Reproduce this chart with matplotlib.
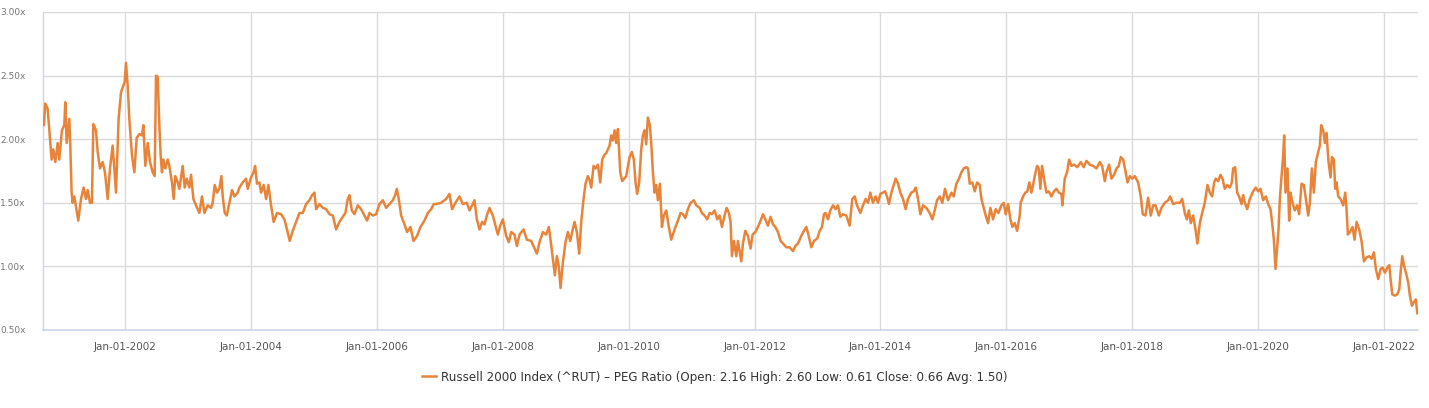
import matplotlib
matplotlib.use("Agg")
import matplotlib.pyplot as plt
import numpy as np

# PEG ratio readings (decimal year, value)
years = [
    2000.697, 2000.707, 2000.728, 2000.766, 2000.803, 2000.829, 2000.856, 2000.887, 2000.925, 2000.951,
    2000.993, 2001.031, 2001.046, 2001.068, 2001.110, 2001.126, 2001.147, 2001.163, 2001.190, 2001.227,
    2001.253, 2001.296, 2001.338, 2001.375, 2001.402, 2001.439, 2001.470, 2001.492, 2001.534, 2001.561,
    2001.598, 2001.640, 2001.677, 2001.720, 2001.757, 2001.799, 2001.826, 2001.852, 2001.894, 2001.932,
    2001.969, 2001.990, 2002.011, 2002.038, 2002.064, 2002.106, 2002.144, 2002.181, 2002.223, 2002.265,
    2002.287, 2002.318, 2002.356, 2002.393, 2002.435, 2002.467, 2002.488, 2002.515, 2002.541, 2002.562,
    2002.583, 2002.605, 2002.636, 2002.674, 2002.700, 2002.742, 2002.769, 2002.795, 2002.833, 2002.859,
    2002.886, 2002.912, 2002.944, 2002.976, 2003.018, 2003.045, 2003.082, 2003.124, 2003.177, 2003.219,
    2003.257, 2003.310, 2003.363, 2003.389, 2003.421, 2003.458, 2003.495, 2003.527, 2003.548, 2003.580,
    2003.612, 2003.654, 2003.696, 2003.734, 2003.787, 2003.813,
    2003.866, 2003.919, 2003.945, 2003.998, 2004.040, 2004.062, 2004.093, 2004.131, 2004.157, 2004.199,
    2004.237, 2004.274, 2004.316, 2004.358, 2004.411, 2004.475, 2004.528, 2004.570, 2004.613, 2004.661,
    2004.714, 2004.767, 2004.820, 2004.873, 2004.926, 2004.968, 2005.005, 2005.032, 2005.085, 2005.138,
    2005.191, 2005.244, 2005.297, 2005.350, 2005.403, 2005.456, 2005.498, 2005.535, 2005.562, 2005.599,
    2005.641, 2005.694, 2005.747, 2005.800, 2005.842, 2005.880, 2005.933, 2005.986, 2006.039, 2006.092,
    2006.145, 2006.198, 2006.251, 2006.288, 2006.314, 2006.346, 2006.383, 2006.436, 2006.478, 2006.531,
    2006.579, 2006.637, 2006.690, 2006.754, 2006.807, 2006.860, 2006.902,
    2006.939, 2007.019, 2007.098, 2007.151, 2007.193, 2007.246, 2007.310, 2007.363, 2007.427, 2007.469,
    2007.511, 2007.549, 2007.586, 2007.628, 2007.670, 2007.708, 2007.745, 2007.787, 2007.840, 2007.882,
    2007.920, 2007.957, 2007.999, 2008.052, 2008.094, 2008.132, 2008.185, 2008.222, 2008.264, 2008.328,
    2008.381, 2008.450, 2008.503, 2008.540, 2008.582, 2008.635, 2008.688, 2008.730, 2008.757, 2008.794,
    2008.826, 2008.858, 2008.889, 2008.916, 2008.953, 2008.995, 2009.033, 2009.070, 2009.101, 2009.139,
    2009.176, 2009.213, 2009.245, 2009.282, 2009.313, 2009.351, 2009.377, 2009.404, 2009.441, 2009.472,
    2009.510, 2009.547, 2009.578, 2009.616, 2009.642, 2009.695, 2009.722, 2009.748, 2009.775, 2009.801,
    2009.828, 2009.865, 2009.896, 2009.960, 2010.013,
    2010.050, 2010.081, 2010.108, 2010.134, 2010.166, 2010.198, 2010.225, 2010.251, 2010.278, 2010.304,
    2010.336, 2010.357, 2010.384, 2010.410, 2010.437, 2010.463, 2010.495, 2010.527, 2010.558, 2010.596,
    2010.633, 2010.675, 2010.728, 2010.781, 2010.823, 2010.861, 2010.898, 2010.940, 2010.982, 2011.035,
    2011.073, 2011.126, 2011.163, 2011.205, 2011.247, 2011.285, 2011.322, 2011.364, 2011.406, 2011.444,
    2011.481, 2011.523, 2011.555, 2011.592, 2011.618, 2011.640, 2011.671, 2011.709, 2011.735, 2011.762,
    2011.788, 2011.815, 2011.852, 2011.894, 2011.936, 2011.968, 2012.011, 2012.053, 2012.095, 2012.133,
    2012.170, 2012.212, 2012.254, 2012.292, 2012.329, 2012.371, 2012.413, 2012.451, 2012.504, 2012.557,
    2012.610, 2012.647, 2012.689, 2012.742, 2012.784, 2012.822, 2012.859, 2012.901, 2012.943, 2012.996,
    2013.034, 2013.071, 2013.102,
    2013.128, 2013.166, 2013.203, 2013.245, 2013.287, 2013.325, 2013.362, 2013.404, 2013.457, 2013.510,
    2013.552, 2013.590, 2013.627, 2013.680, 2013.722, 2013.764, 2013.802, 2013.839, 2013.881, 2013.923,
    2013.961, 2013.998, 2014.040, 2014.072, 2014.104, 2014.135, 2014.173, 2014.210, 2014.241, 2014.279,
    2014.316, 2014.358, 2014.400, 2014.438, 2014.491, 2014.528, 2014.560, 2014.597, 2014.634, 2014.676,
    2014.729, 2014.782, 2014.824, 2014.862, 2014.899, 2014.941, 2014.983, 2015.026, 2015.074, 2015.127,
    2015.164, 2015.206, 2015.248, 2015.286, 2015.323, 2015.365, 2015.392, 2015.418, 2015.460, 2015.498,
    2015.535, 2015.577, 2015.604, 2015.630, 2015.672, 2015.710, 2015.747, 2015.789, 2015.831, 2015.874,
    2015.922, 2015.959, 2015.990, 2016.028, 2016.065, 2016.097, 2016.134, 2016.171, 2016.213,
    2016.228, 2016.266, 2016.303, 2016.334, 2016.366, 2016.398, 2016.425, 2016.451, 2016.488, 2016.515,
    2016.541, 2016.568, 2016.599, 2016.637, 2016.674, 2016.716, 2016.758, 2016.796, 2016.833, 2016.875,
    2016.891, 2016.928, 2016.965, 2016.997, 2017.034, 2017.076, 2017.129, 2017.182, 2017.230, 2017.273,
    2017.326, 2017.379, 2017.432, 2017.485, 2017.522, 2017.564, 2017.591, 2017.633, 2017.670, 2017.712,
    2017.750, 2017.787, 2017.818, 2017.856, 2017.893, 2017.925, 2017.962, 2017.999, 2018.041, 2018.094,
    2018.136, 2018.168, 2018.211, 2018.253, 2018.295, 2018.333, 2018.370, 2018.423, 2018.465, 2018.518,
    2018.571, 2018.603, 2018.651, 2018.704, 2018.757, 2018.794, 2018.836, 2018.868, 2018.900, 2018.931,
    2018.969, 2019.006, 2019.037, 2019.075, 2019.112, 2019.154, 2019.196, 2019.234, 2019.271, 2019.302,
    2019.328, 2019.366, 2019.403, 2019.434, 2019.472, 2019.509, 2019.551, 2019.583, 2019.604, 2019.636,
    2019.668, 2019.699, 2019.737, 2019.763, 2019.790, 2019.827, 2019.869, 2019.922, 2019.964, 2020.002,
    2020.039, 2020.081, 2020.123, 2020.161, 2020.198, 2020.229, 2020.251, 2020.277, 2020.304, 2020.325,
    2020.346, 2020.373, 2020.399, 2020.415, 2020.436, 2020.468, 2020.494, 2020.516, 2020.547, 2020.585,
    2020.622, 2020.653, 2020.691, 2020.728, 2020.760, 2020.797, 2020.823, 2020.855, 2020.887, 2020.918,
    2020.956, 2020.982, 2021.003, 2021.035, 2021.062, 2021.088, 2021.120, 2021.152, 2021.173, 2021.205,
    2021.226, 2021.247, 2021.274, 2021.311, 2021.353, 2021.385, 2021.406, 2021.427, 2021.459, 2021.501,
    2021.533, 2021.565, 2021.607, 2021.644, 2021.682, 2021.724, 2021.766, 2021.804, 2021.841, 2021.872,
    2021.910, 2021.947, 2021.979, 2022.016, 2022.053, 2022.085, 2022.106, 2022.133, 2022.175, 2022.212,
    2022.244, 2022.265, 2022.291, 2022.318, 2022.360, 2022.387, 2022.413, 2022.445, 2022.477, 2022.508,
    2022.530, 2022.546,
]

peg = [
    2.16, 2.11, 2.28, 2.24, 2.00, 1.84, 1.92, 1.82, 1.97, 1.84,
    2.07, 2.11, 2.29, 1.97, 2.16, 1.95, 1.58, 1.50, 1.55, 1.44,
    1.36, 1.53, 1.62, 1.53, 1.60, 1.50, 1.50, 2.12, 2.07, 1.90,
    1.77, 1.82, 1.74, 1.53, 1.77, 1.95, 1.77, 1.58, 2.16, 2.37,
    2.42, 2.45, 2.60, 2.42, 2.16, 1.87, 1.74, 2.01, 2.04, 2.03,
    2.11, 1.79, 1.97, 1.82, 1.74, 1.71, 2.50, 2.49, 2.11, 1.87,
    1.74, 1.84, 1.77, 1.84, 1.79, 1.66, 1.53, 1.71, 1.66, 1.61,
    1.70, 1.79, 1.62, 1.69, 1.62, 1.72, 1.53, 1.48, 1.42, 1.55,
    1.42, 1.48, 1.46, 1.50, 1.64, 1.58, 1.61, 1.71, 1.55, 1.42,
    1.40, 1.50, 1.60, 1.55, 1.58, 1.62,
    1.66, 1.69, 1.61, 1.70, 1.74, 1.79, 1.65, 1.66, 1.58, 1.64,
    1.53, 1.64, 1.48, 1.35, 1.42, 1.41, 1.37, 1.29, 1.20, 1.28,
    1.35, 1.42, 1.42, 1.49, 1.52, 1.56, 1.58, 1.45, 1.49, 1.46,
    1.45, 1.41, 1.40, 1.29, 1.35, 1.39, 1.42, 1.53, 1.56, 1.44,
    1.41, 1.48, 1.45, 1.40, 1.36, 1.42, 1.40, 1.41, 1.49, 1.52,
    1.46, 1.49, 1.52, 1.56, 1.61, 1.53, 1.40, 1.33, 1.27, 1.31,
    1.20, 1.24, 1.31, 1.36, 1.42, 1.45, 1.49,
    1.49, 1.50, 1.53, 1.57, 1.45, 1.50, 1.55, 1.49, 1.50, 1.44,
    1.48, 1.52, 1.37, 1.29, 1.35, 1.33, 1.40, 1.46, 1.40, 1.32,
    1.25, 1.32, 1.37, 1.24, 1.19, 1.27, 1.25, 1.16, 1.25, 1.29,
    1.21, 1.20, 1.14, 1.10, 1.19, 1.27, 1.25, 1.31, 1.21, 1.06,
    0.93, 1.08, 1.00, 0.83, 1.03, 1.19, 1.27, 1.20, 1.27, 1.35,
    1.27, 1.10, 1.35, 1.53, 1.65, 1.71, 1.68, 1.62, 1.79, 1.77,
    1.80, 1.66, 1.84, 1.88, 1.89, 1.95, 2.03, 1.99, 2.07, 1.97,
    2.08, 1.74, 1.67, 1.71, 1.86,
    1.90, 1.84, 1.66, 1.57, 1.66, 1.92, 2.03, 2.07, 1.96, 2.17,
    2.11, 1.97, 1.74, 1.58, 1.64, 1.52, 1.65, 1.31, 1.40, 1.44,
    1.32, 1.21, 1.29, 1.36, 1.42, 1.41, 1.38, 1.45, 1.50, 1.52,
    1.48, 1.46, 1.42, 1.40, 1.37, 1.42, 1.41, 1.44, 1.37, 1.40,
    1.31, 1.40, 1.46, 1.42, 1.35, 1.08, 1.20, 1.08, 1.20, 1.12,
    1.04, 1.18, 1.28, 1.24, 1.14, 1.25, 1.27, 1.31, 1.36, 1.41,
    1.37, 1.32, 1.39, 1.33, 1.31, 1.27, 1.20, 1.18, 1.15, 1.15,
    1.12, 1.16, 1.18, 1.24, 1.28, 1.31, 1.24, 1.15, 1.20, 1.22,
    1.28, 1.31, 1.41,
    1.42, 1.37, 1.44, 1.48, 1.45, 1.48, 1.39, 1.41, 1.40, 1.32,
    1.53, 1.55, 1.48, 1.42, 1.48, 1.53, 1.50, 1.58, 1.50, 1.55,
    1.50, 1.57, 1.58, 1.59, 1.55, 1.49, 1.58, 1.64, 1.69, 1.65,
    1.58, 1.53, 1.45, 1.53, 1.58, 1.59, 1.62, 1.53, 1.41, 1.48,
    1.46, 1.42, 1.37, 1.44, 1.52, 1.55, 1.50, 1.61, 1.52, 1.58,
    1.55, 1.65, 1.69, 1.74, 1.77, 1.78, 1.77, 1.65, 1.66, 1.59,
    1.66, 1.64, 1.53, 1.48, 1.40, 1.34, 1.46, 1.37, 1.45, 1.42,
    1.48, 1.50, 1.41, 1.49, 1.37, 1.31, 1.34, 1.28, 1.40,
    1.50, 1.55, 1.58, 1.59, 1.66, 1.58, 1.64, 1.71, 1.79, 1.77,
    1.61, 1.79, 1.69, 1.58, 1.59, 1.55, 1.59, 1.61, 1.58, 1.57,
    1.48, 1.69, 1.74, 1.84, 1.79, 1.80, 1.78, 1.82, 1.78, 1.83,
    1.80, 1.79, 1.77, 1.82, 1.79, 1.67, 1.74, 1.80, 1.69, 1.72,
    1.77, 1.79, 1.86, 1.84, 1.75, 1.66, 1.71, 1.69, 1.71, 1.66,
    1.55, 1.41, 1.40, 1.54, 1.40, 1.48, 1.48, 1.40, 1.46, 1.50,
    1.52, 1.55, 1.49, 1.50, 1.50, 1.53, 1.42, 1.37, 1.44, 1.34,
    1.40, 1.29, 1.18, 1.34, 1.42, 1.50, 1.64, 1.58, 1.55, 1.66,
    1.69, 1.67, 1.72, 1.69, 1.61, 1.64, 1.62, 1.66, 1.77, 1.78,
    1.58, 1.55, 1.49, 1.56, 1.50, 1.45, 1.53, 1.59, 1.62, 1.59,
    1.61, 1.52, 1.55, 1.49, 1.45, 1.32, 1.21, 0.98, 1.16, 1.29,
    1.53, 1.71, 1.87, 2.03, 1.58, 1.77, 1.36, 1.58, 1.50, 1.44,
    1.48, 1.41, 1.65, 1.64, 1.53, 1.40, 1.50, 1.77, 1.58, 1.82,
    1.90, 1.95, 2.11, 2.07, 1.97, 2.05, 1.82, 1.70, 1.86, 1.84,
    1.61, 1.66, 1.55, 1.53, 1.48, 1.58, 1.45, 1.25, 1.27, 1.31,
    1.21, 1.35, 1.29, 1.20, 1.04, 1.07, 1.08, 1.06, 1.11, 0.98,
    0.90, 0.98, 0.99, 0.95, 0.99, 1.01, 0.90, 0.78, 0.77, 0.78,
    0.82, 0.95, 1.08, 1.01, 0.93, 0.87, 0.77, 0.69, 0.72, 0.74,
    0.63, 0.66,
]

tick_years = [2002, 2004, 2006, 2008, 2010, 2012, 2014, 2016, 2018, 2020, 2022]
tick_labels = ["Jan-01-%d" % y for y in tick_years]
y_ticks = [0.5, 1.0, 1.5, 2.0, 2.5, 3.0]
label = ("Russell 2000 Index (^RUT) \u2013 PEG Ratio "
         "(Open: 2.16 High: 2.60 Low: 0.61 Close: 0.66 Avg: 1.50)")

line_color = "#e8843a"
grid_color = "#dadada"

fig = plt.figure(figsize=(14.29, 4.08), dpi=100)
ax = fig.add_axes([0.0303, 0.1912, 0.9622, 0.7794])

ax.plot(years, peg, color=line_color, linewidth=1.8, label=label, zorder=3)

ax.set_xlim(years[0], years[-1])
ax.set_ylim(0.5, 3.0)

ax.set_xticks(tick_years)
ax.set_xticklabels(tick_labels)
ax.set_yticks(y_ticks)
ax.set_yticklabels(["%.2fx" % v for v in y_ticks])

ax.tick_params(axis="x", length=0, pad=9, labelsize=7.5, labelcolor="#555555")
ax.tick_params(axis="y", length=0, pad=12.5, labelsize=6.5, labelcolor="#777777")

ax.grid(True, color=grid_color, linewidth=1.0, zorder=0)
for side in ["top", "right"]:
    ax.spines[side].set_visible(False)
ax.spines["bottom"].set_color("#ccd6eb")
ax.spines["bottom"].set_linewidth(1.2)
ax.spines["left"].set_color("#ccd6eb")
ax.spines["left"].set_linewidth(1.0)

leg = fig.legend(loc="center", bbox_to_anchor=(0.5, 1 - 377 / 408), frameon=False,
                 fontsize=8.6, handlelength=1.2, handletextpad=0.4)
for t in leg.get_texts():
    t.set_color("#333333")

fig.savefig("out.png", dpi=100)
